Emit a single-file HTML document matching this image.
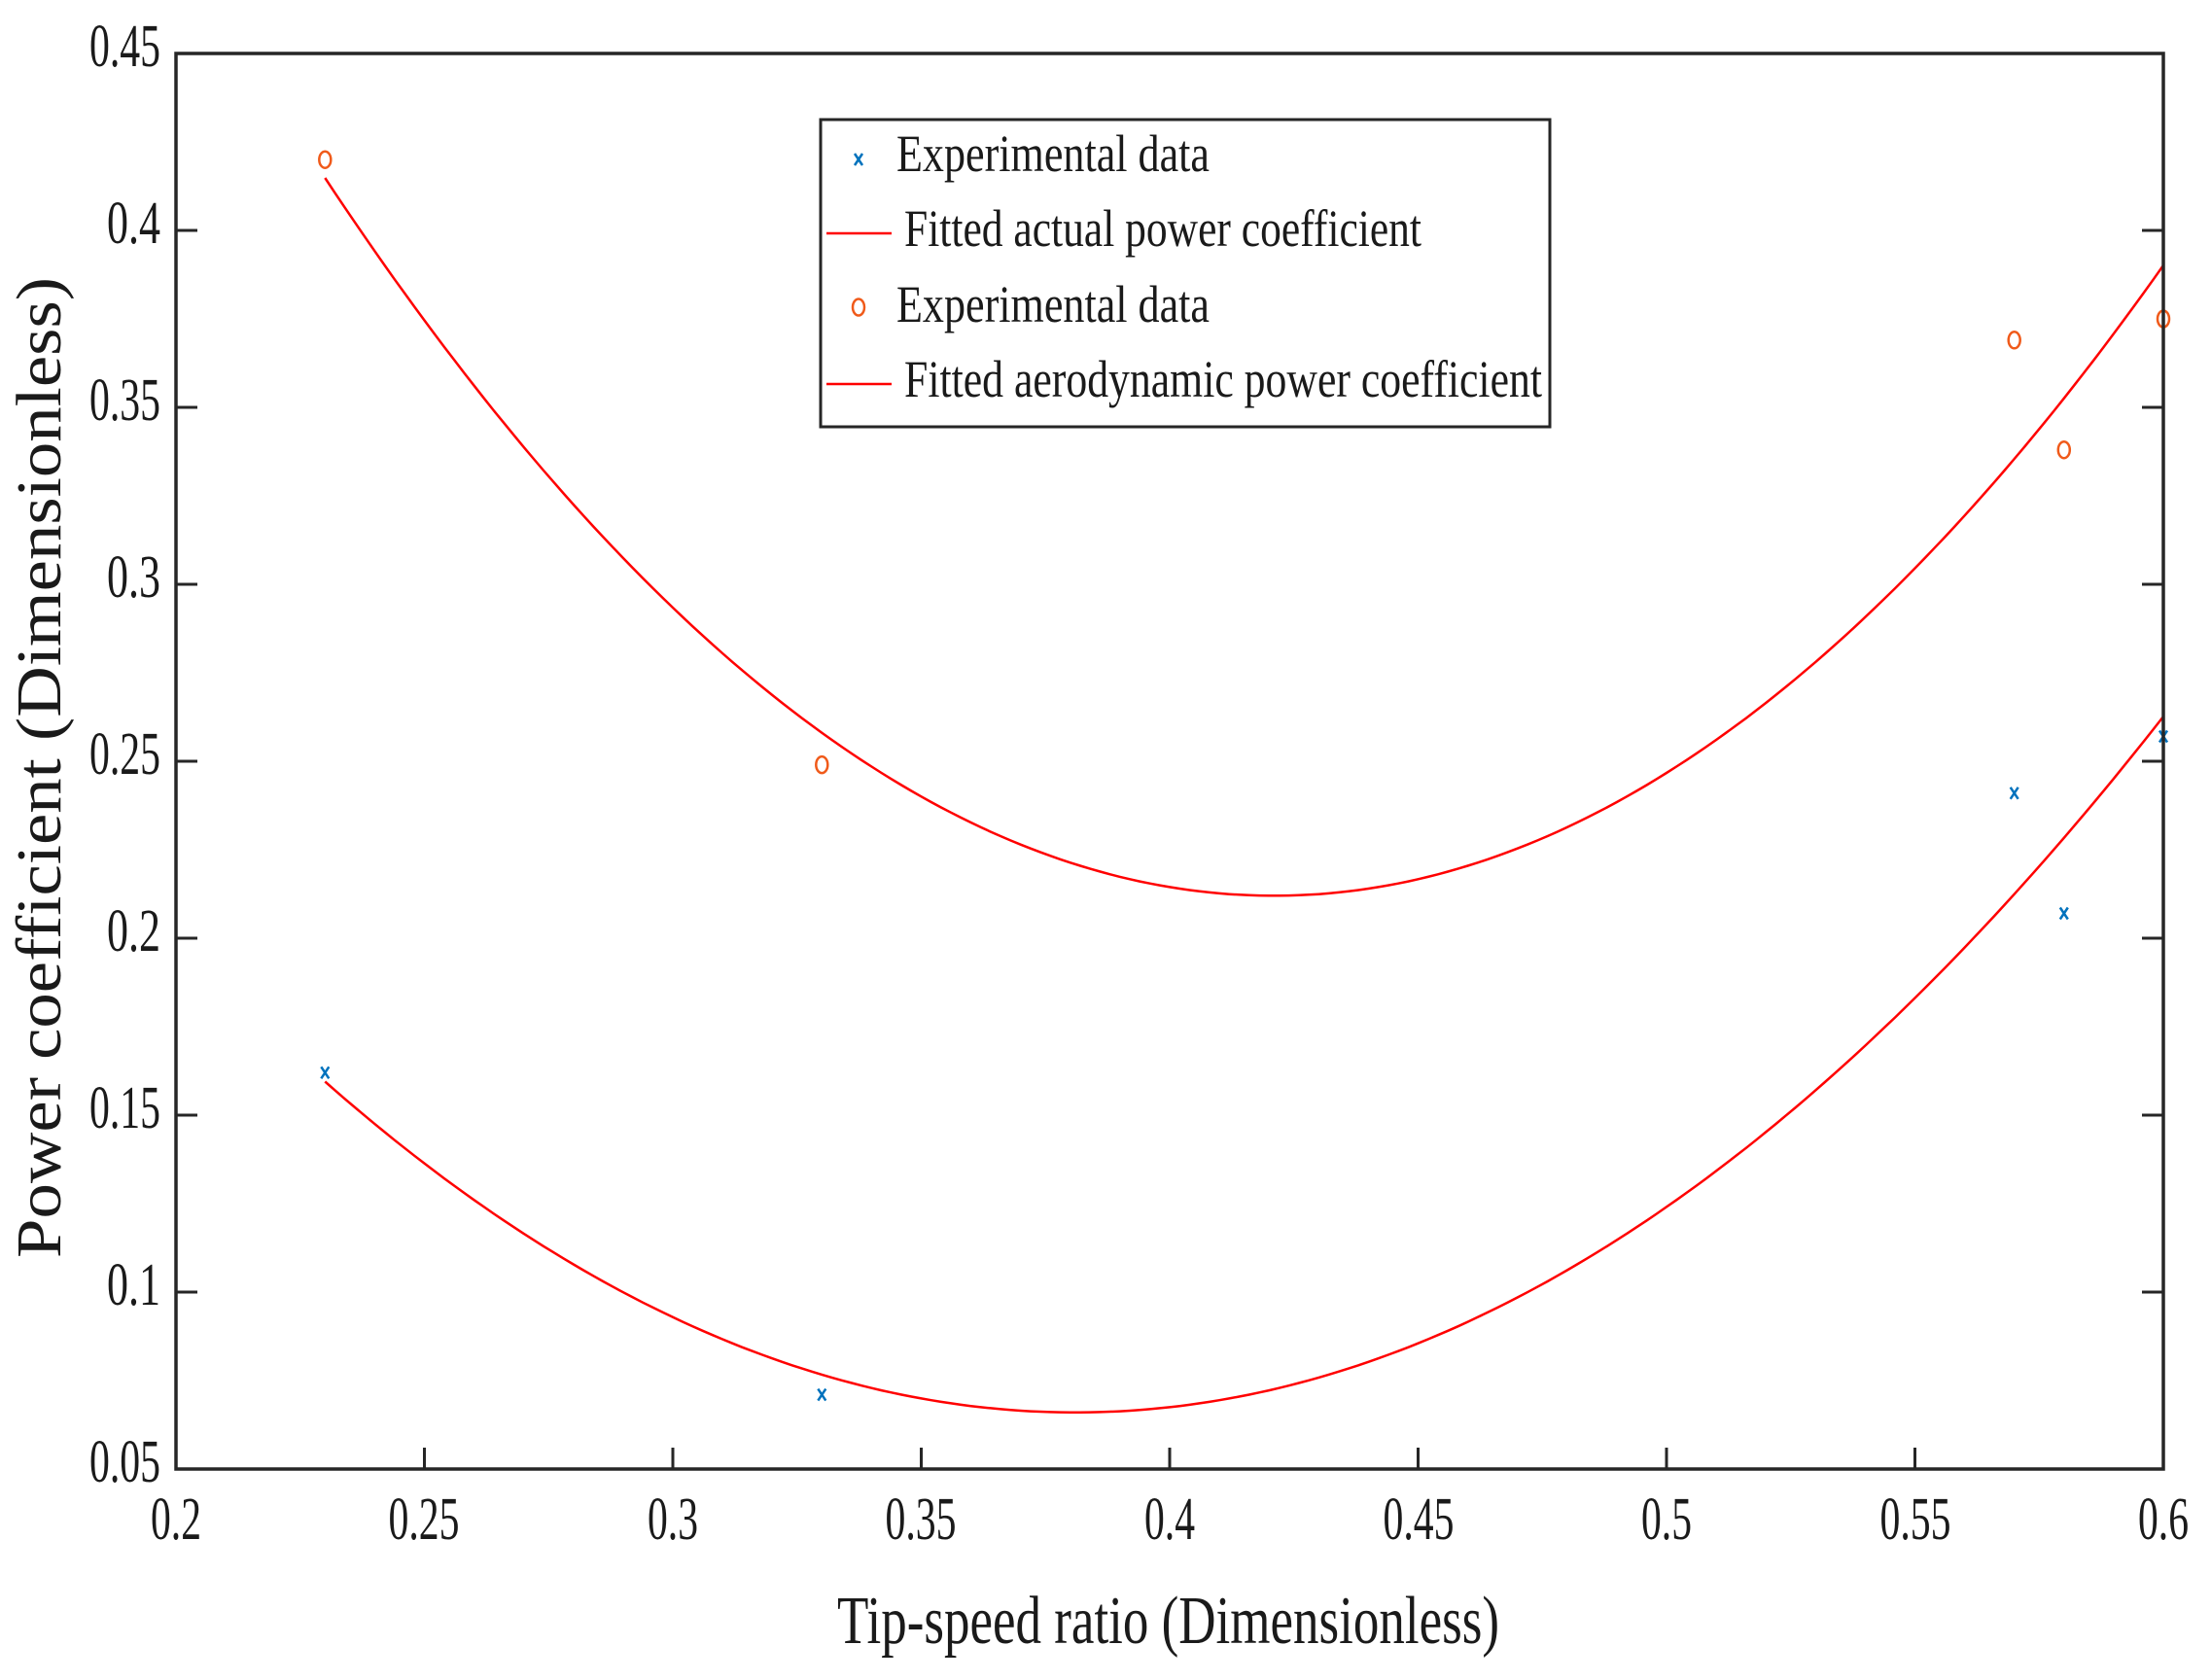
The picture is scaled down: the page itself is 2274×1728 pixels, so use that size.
<!DOCTYPE html>
<html><head><meta charset="utf-8"><style>html,body{margin:0;padding:0;background:#fff}svg{display:block}</style></head>
<body>
<svg id="s" width="2274" height="1728" xmlns="http://www.w3.org/2000/svg" font-family="Liberation Serif, serif" fill="#1a1a1a">
<rect x="0" y="0" width="2274" height="1728" fill="#fff"/>
<g stroke="#262626" stroke-width="3">
<line x1="181" y1="237" x2="203" y2="237"/><line x1="2225" y1="237" x2="2203" y2="237"/>
<line x1="181" y1="419" x2="203" y2="419"/><line x1="2225" y1="419" x2="2203" y2="419"/>
<line x1="181" y1="601" x2="203" y2="601"/><line x1="2225" y1="601" x2="2203" y2="601"/>
<line x1="181" y1="783" x2="203" y2="783"/><line x1="2225" y1="783" x2="2203" y2="783"/>
<line x1="181" y1="965" x2="203" y2="965"/><line x1="2225" y1="965" x2="2203" y2="965"/>
<line x1="181" y1="1147" x2="203" y2="1147"/><line x1="2225" y1="1147" x2="2203" y2="1147"/>
<line x1="181" y1="1329" x2="203" y2="1329"/><line x1="2225" y1="1329" x2="2203" y2="1329"/>
<line x1="436.5" y1="1511" x2="436.5" y2="1489"/>
<line x1="692" y1="1511" x2="692" y2="1489"/>
<line x1="947.5" y1="1511" x2="947.5" y2="1489"/>
<line x1="1203" y1="1511" x2="1203" y2="1489"/>
<line x1="1458.5" y1="1511" x2="1458.5" y2="1489"/>
<line x1="1714" y1="1511" x2="1714" y2="1489"/>
<line x1="1969.5" y1="1511" x2="1969.5" y2="1489"/>
</g>
<path id="c1" fill="none" stroke="#ff0000" stroke-width="2.5"/>
<path id="c2" fill="none" stroke="#ff0000" stroke-width="2.5"/>
<g fill="none" stroke="#f05a1a" stroke-width="2.5">
<ellipse cx="334.3" cy="164.2" rx="6" ry="8.5"/>
<ellipse cx="845.3" cy="786.6" rx="6" ry="8.5"/>
<ellipse cx="2071.7" cy="349.8" rx="6" ry="8.5"/>
<ellipse cx="2122.8" cy="462.7" rx="6" ry="8.5"/>
<ellipse cx="2225" cy="328" rx="6" ry="8.5"/>
</g>
<g stroke="#0072BD" stroke-width="2.5">
<path d="M330.3 1097.3L338.3 1109.3M338.3 1097.3L330.3 1109.3"/>
<path d="M841.3 1428.6L849.3 1440.6M849.3 1428.6L841.3 1440.6"/>
<path d="M2067.7 809.8L2075.7 821.8M2075.7 809.8L2067.7 821.8"/>
<path d="M2118.8 933.5L2126.8 945.5M2126.8 933.5L2118.8 945.5"/>
<path d="M2221 751.5L2229 763.5M2229 751.5L2221 763.5"/>
</g>
<rect x="181" y="55" width="2044" height="1456" fill="none" stroke="#262626" stroke-width="3.5"/>
<g font-size="62" text-anchor="end">
<text x="165" y="68" textLength="73" lengthAdjust="spacingAndGlyphs">0.45</text>
<text x="165" y="250" textLength="55" lengthAdjust="spacingAndGlyphs">0.4</text>
<text x="165" y="432" textLength="73" lengthAdjust="spacingAndGlyphs">0.35</text>
<text x="165" y="614" textLength="55" lengthAdjust="spacingAndGlyphs">0.3</text>
<text x="165" y="796" textLength="73" lengthAdjust="spacingAndGlyphs">0.25</text>
<text x="165" y="978" textLength="55" lengthAdjust="spacingAndGlyphs">0.2</text>
<text x="165" y="1160" textLength="73" lengthAdjust="spacingAndGlyphs">0.15</text>
<text x="165" y="1342" textLength="55" lengthAdjust="spacingAndGlyphs">0.1</text>
<text x="165" y="1524" textLength="73" lengthAdjust="spacingAndGlyphs">0.05</text>
</g>
<g font-size="62" text-anchor="middle">
<text x="181" y="1583" textLength="52" lengthAdjust="spacingAndGlyphs">0.2</text>
<text x="436" y="1583" textLength="73" lengthAdjust="spacingAndGlyphs">0.25</text>
<text x="692" y="1583" textLength="52" lengthAdjust="spacingAndGlyphs">0.3</text>
<text x="947" y="1583" textLength="73" lengthAdjust="spacingAndGlyphs">0.35</text>
<text x="1203" y="1583" textLength="52" lengthAdjust="spacingAndGlyphs">0.4</text>
<text x="1459" y="1583" textLength="73" lengthAdjust="spacingAndGlyphs">0.45</text>
<text x="1714" y="1583" textLength="52" lengthAdjust="spacingAndGlyphs">0.5</text>
<text x="1970" y="1583" textLength="73" lengthAdjust="spacingAndGlyphs">0.55</text>
<text x="2225" y="1583" textLength="52" lengthAdjust="spacingAndGlyphs">0.6</text>
</g>
<text x="861" y="1690" font-size="70" textLength="681" lengthAdjust="spacingAndGlyphs">Tip-speed ratio (Dimensionless)</text>
<text transform="translate(62,1294) rotate(-90)" font-size="66" textLength="1009" lengthAdjust="spacingAndGlyphs">Power coefficient (Dimensionless)</text>
<rect x="844" y="123" width="750" height="316" fill="#fff" stroke="#262626" stroke-width="3"/>
<g font-size="54">
<text x="922" y="176" textLength="322" lengthAdjust="spacingAndGlyphs">Experimental data</text>
<text x="930" y="253" textLength="532" lengthAdjust="spacingAndGlyphs">Fitted actual power coefficient</text>
<text x="922" y="331" textLength="322" lengthAdjust="spacingAndGlyphs">Experimental data</text>
<text x="930" y="408" textLength="656" lengthAdjust="spacingAndGlyphs">Fitted aerodynamic power coefficient</text>
</g>
<line x1="850" y1="240" x2="917" y2="240" stroke="#ff0000" stroke-width="2.5"/>
<line x1="850" y1="395" x2="917" y2="395" stroke="#ff0000" stroke-width="2.5"/>
<path d="M879 158L887 170M887 158L879 170" stroke="#0072BD" stroke-width="2.5"/>
<ellipse cx="883" cy="316" rx="6" ry="8.5" fill="none" stroke="#f05a1a" stroke-width="2.5"/>
<script>
var X=function(x){return 181+(x-0.2)*5110},Y=function(y){return 55+(0.45-y)*3640};
function curve(a,v,m){var d='';for(var x=0.23;x<=0.6001;x+=0.002){var y=a*(x-v)*(x-v)+m;d+=(d?'L':'M')+X(x).toFixed(1)+' '+Y(y).toFixed(1);}return d;}
document.getElementById('c1').setAttribute('d',curve(5.56,0.421,0.212));
document.getElementById('c2').setAttribute('d',curve(4.1,0.381,0.066));
</script>
</svg>
</body></html>
